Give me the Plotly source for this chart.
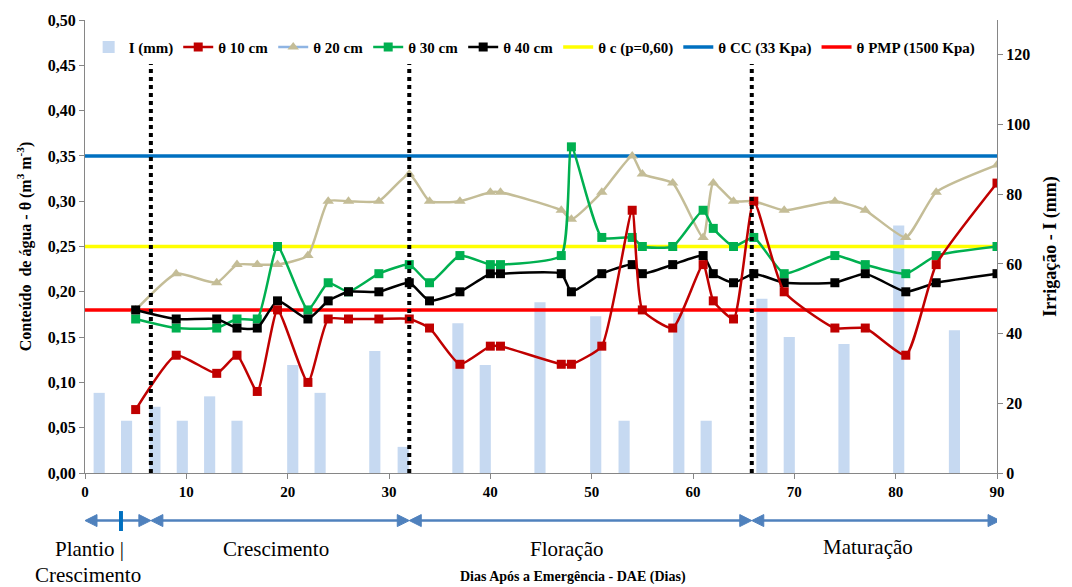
import plotly.graph_objects as go

# Irrigation events (day after emergence, depth in mm)
irr_days = [1.4, 4.1, 6.9, 9.6, 12.3, 15.0, 20.5, 23.2, 28.6, 31.4, 36.8, 39.5,
            44.9, 50.4, 53.2, 58.6, 61.3, 66.8, 69.5, 74.9, 80.3, 85.8]
irr_mm = [23, 15, 19, 15, 22, 15, 31, 23, 35, 7.5, 43, 31,
          49, 45, 15, 46, 15, 50, 39, 37, 71, 41]

# Soil water content readings by depth
days = [5, 9, 13, 15, 17, 19, 22, 24, 26, 29, 32, 34, 37, 40, 41, 47, 48, 51,
        54, 55, 58, 61, 62, 64, 66, 69, 74, 77, 81, 84, 90]
theta_10 = [0.07, 0.13, 0.11, 0.13, 0.09, 0.18, 0.10, 0.17, 0.17, 0.17, 0.17, 0.16,
            0.12, 0.14, 0.14, 0.12, 0.12, 0.14, 0.29, 0.18, 0.16, 0.23, 0.19, 0.17,
            0.30, 0.20, 0.16, 0.16, 0.13, 0.23, 0.32]
theta_20 = [0.18, 0.22, 0.21, 0.23, 0.23, 0.23, 0.24, 0.30, 0.30, 0.30, 0.33, 0.30,
            0.30, 0.31, 0.31, 0.29, 0.28, 0.31, 0.35, 0.33, 0.32, 0.26, 0.32, 0.30,
            0.30, 0.29, 0.30, 0.29, 0.26, 0.31, 0.34]
theta_30 = [0.17, 0.16, 0.16, 0.17, 0.17, 0.25, 0.18, 0.21, 0.20, 0.22, 0.23, 0.21,
            0.24, 0.23, 0.23, 0.24, 0.36, 0.26, 0.26, 0.25, 0.25, 0.29, 0.27, 0.25,
            0.26, 0.22, 0.24, 0.23, 0.22, 0.24, 0.25]
theta_40 = [0.18, 0.17, 0.17, 0.16, 0.16, 0.19, 0.17, 0.19, 0.20, 0.20, 0.21, 0.19,
            0.20, 0.22, 0.22, 0.22, 0.20, 0.22, 0.23, 0.22, 0.23, 0.24, 0.22, 0.21,
            0.22, 0.21, 0.21, 0.22, 0.20, 0.21, 0.22]

# Reference moisture levels
theta_c = 0.25
theta_cc = 0.35
theta_pmp = 0.18

# Crop stage boundaries and labels
stage_limits = [6.5, 32.0, 65.8]
stage_arrows = [(0, 6.5), (6.5, 32.0), (32.0, 65.8), (65.8, 90.3)]
planting_day = 3.55

SERIF = "Liberation Serif, DejaVu Serif, serif"
BLUE_ARROW = "#4F81BD"

fig = go.Figure()

# Irrigation bars on the right-hand axis
fig.add_trace(go.Bar(
    x=irr_days, y=irr_mm, width=1.1, name="I (mm)",
    marker=dict(color="#C6D9F1", line=dict(width=0)),
    yaxis="y", legendrank=1,
))

# Reference levels as full-width lines
for val, col, nm, rank in [(theta_c, "#FFFF00", "θ c (p=0,60)", 6),
                           (theta_cc, "#0070C0", "θ CC (33 Kpa)", 7),
                           (theta_pmp, "#FF0000", "θ PMP (1500 Kpa)", 8)]:
    fig.add_trace(go.Scatter(
        x=[0, 90], y=[val, val], mode="lines", name=nm,
        line=dict(color=col, width=3.5), yaxis="y2", legendrank=rank,
    ))

spline = dict(shape="spline", smoothing=0.5)

fig.add_trace(go.Scatter(
    x=days, y=theta_20, mode="lines+markers", name="θ 20 cm", showlegend=False,
    line=dict(color="#C4BD97", width=2.5, **spline),
    marker=dict(symbol="triangle-up", size=10, color="#C4BD97"),
    yaxis="y2",
))
fig.add_trace(go.Scatter(
    x=[None], y=[None], mode="lines+markers", name="θ 20 cm",
    line=dict(color="#8EB4E3", width=2.5),
    marker=dict(symbol="triangle-up", size=10, color="#C4BD97"),
    yaxis="y2", legendrank=3,
))
fig.add_trace(go.Scatter(
    x=days, y=theta_30, mode="lines+markers", name="θ 30 cm",
    line=dict(color="#00B050", width=2.5, **spline),
    marker=dict(symbol="square", size=9, color="#00B050"),
    yaxis="y2", legendrank=4,
))
fig.add_trace(go.Scatter(
    x=days, y=theta_40, mode="lines+markers", name="θ 40 cm",
    line=dict(color="#000000", width=2.5, **spline),
    marker=dict(symbol="square", size=9, color="#000000"),
    yaxis="y2", legendrank=5,
))
fig.add_trace(go.Scatter(
    x=days, y=theta_10, mode="lines+markers", name="θ 10 cm",
    line=dict(color="#C00000", width=2.5, **spline),
    marker=dict(symbol="square", size=9, color="#C00000"),
    yaxis="y2", legendrank=2,
))

# Dotted stage separators
for d in stage_limits:
    fig.add_shape(type="line", xref="x", yref="paper", x0=d, x1=d, y0=0, y1=0.93,
                  line=dict(color="black", width=4, dash="dot"), layer="above")

# Double-headed stage arrows below the axis
arrow_y = -0.105
head_left = "M0,0 L12,6 L12,-6 Z"
head_right = "M0,0 L-12,6 L-12,-6 Z"
for a, b in stage_arrows:
    fig.add_shape(type="line", xref="x", yref="paper", x0=a + 0.6, x1=b - 0.6,
                  y0=arrow_y, y1=arrow_y, line=dict(color=BLUE_ARROW, width=2.5))
    for anchor, path in [(a, head_left), (b, head_right)]:
        fig.add_shape(type="path", xref="x", yref="paper", xsizemode="pixel",
                      ysizemode="pixel", xanchor=anchor, yanchor=arrow_y, path=path,
                      fillcolor=BLUE_ARROW, line=dict(color=BLUE_ARROW, width=1))
fig.add_shape(type="line", xref="x", yref="paper", x0=planting_day, x1=planting_day,
              y0=-0.084, y1=-0.128, line=dict(color="#0070C0", width=4))

stage_font = dict(family=SERIF, size=21, color="black")
for txt, xd, yp in [("Plantio |", 0.4, -0.167), ("Crescimento", 0.3, -0.226),
                    ("Crescimento", 18.8, -0.167), ("Floração", 47.5, -0.167),
                    ("Maturação", 77.3, -0.163)]:
    fig.add_annotation(x=xd, y=yp, xref="x", yref="paper", text=txt, showarrow=False,
                       font=stage_font, xanchor="center", yanchor="middle")

fig.add_annotation(x=0.535, y=-0.229, xref="paper", yref="paper",
                   text="<b>Dias Após a Emergência - DAE (Dias)</b>", showarrow=False,
                   font=dict(family=SERIF, size=14, color="black"),
                   xanchor="center", yanchor="middle")

tick_font = dict(family=SERIF, size=16, color="black", weight="bold")
axis_line = "#868686"

fig.update_layout(
    width=1072, height=587,
    margin=dict(l=85, r=75, t=18, b=114),
    paper_bgcolor="white", plot_bgcolor="white",
    separators=",.",
    barmode="overlay",
    font=dict(family=SERIF, color="black"),
    showlegend=True,
    legend=dict(orientation="h", x=0.004, y=0.94, xanchor="left", yanchor="middle",
                bgcolor="white", font=dict(family=SERIF, size=15, color="black",
                                            weight="bold"),
                itemwidth=30, tracegroupgap=0),
    xaxis=dict(range=[0, 90], dtick=10, tick0=0, showgrid=False, zeroline=False,
               showline=True, linecolor=axis_line, linewidth=1,
               ticks="outside", ticklen=5, tickcolor=axis_line,
               tickfont=dict(family=SERIF, size=15, color="black", weight="bold")),
    yaxis=dict(range=[0, 130], dtick=20, tick0=0, side="right", showgrid=False,
               zeroline=False, showline=True, linecolor=axis_line, linewidth=1,
               ticks="outside", ticklen=5, tickcolor=axis_line,
               tickfont=tick_font,
               title=dict(text="<b>Irrigação - I (mm)</b>", standoff=14,
                          font=dict(family=SERIF, size=18, color="black"))),
    yaxis2=dict(range=[0, 0.5], dtick=0.05, tick0=0, tickformat=".2f",
                overlaying="y", side="left", showgrid=False, zeroline=False,
                showline=True, linecolor=axis_line, linewidth=1,
                ticks="outside", ticklen=5, tickcolor=axis_line,
                tickfont=tick_font,
                title=dict(text="<b>Conteúdo  de água - θ (m<sup>3</sup> m<sup>-3</sup>)</b>",
                           standoff=12,
                           font=dict(family=SERIF, size=16, color="black"))),
)

fig.write_html("out.html")
